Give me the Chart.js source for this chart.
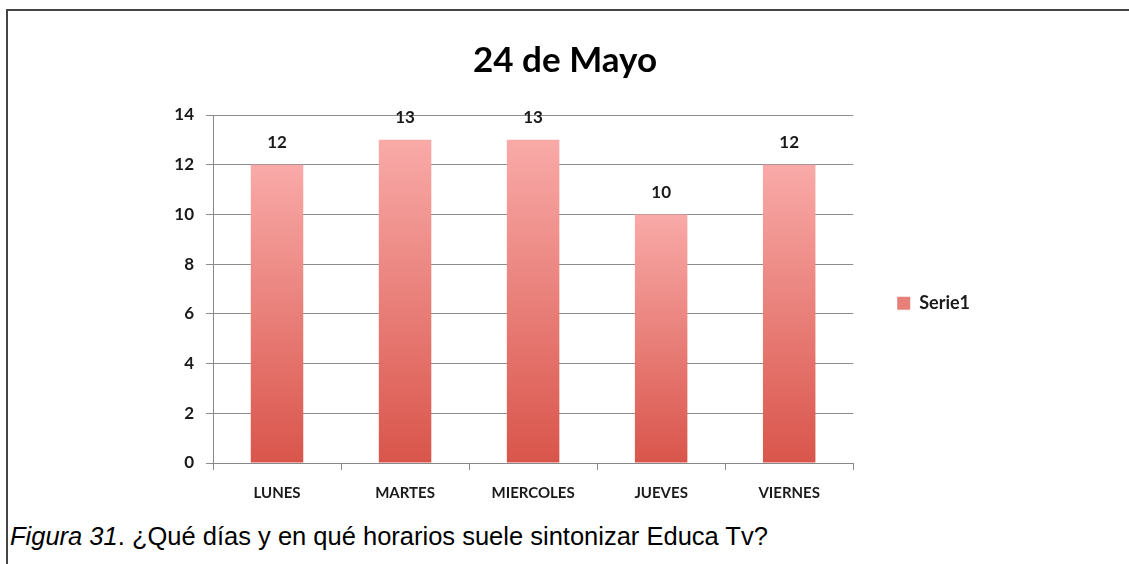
<!DOCTYPE html>
<html>
<head>
<meta charset="utf-8">
<script src="https://cdn.jsdelivr.net/npm/chart.js@4.4.1/dist/chart.umd.min.js"></script>
<style>
  body { margin: 0; background: #fff; }
  #frame { position: absolute; left: 6px; top: 9px; width: 1130px; height: 560px; border-top: 2px solid #444; border-left: 2px solid #444; }
  #wrap { position: absolute; left: 0; top: 0; width: 1129px; height: 516px; }
  #caption { position: absolute; left: 10px; top: 522px; font-family: "Liberation Sans", Arial, sans-serif; font-size: 25.5px; color: #000; white-space: nowrap; }
</style>
</head>
<body>
<div id="frame"></div>
<div id="wrap"><canvas id="chart"></canvas></div>
<div id="caption"><i>Figura 31</i>. ¿Qué días y en qué horarios suele sintonizar Educa Tv?</div>
<script>
const dias = ['LUNES', 'MARTES', 'MIERCOLES', 'JUEVES', 'VIERNES'];
const serie1 = [12, 13, 13, 10, 12];
const yTicks = [0, 2, 4, 6, 8, 10, 12, 14];

const fuente = 'Lato, "Open Sans", sans-serif';

// degradado por barra: rosa claro arriba, rojo abajo
function barGradient(context) {
    const chart = context.chart;
    const yScale = chart.scales.y;
    if (!chart.chartArea || !yScale) return '#e8706a';
    const top = yScale.getPixelForValue(context.raw);
    const bottom = yScale.getPixelForValue(0);
    const g = chart.ctx.createLinearGradient(0, top, 0, bottom);
    g.addColorStop(0, '#f9aaa8');
    g.addColorStop(1, '#d9554b');
    return g;
}

const etiquetas = {
    id: 'etiquetas',
    afterDatasetsDraw(chart) {
        const ctx = chart.ctx;
        const meta = chart.getDatasetMeta(0);
        ctx.save();
        ctx.font = 'bold 17px ' + fuente;
        ctx.fillStyle = '#1a1a1a';
        ctx.textAlign = 'center';
        ctx.textBaseline = 'middle';
        meta.data.forEach((bar, i) => {
            ctx.fillText(serie1[i], bar.x, bar.y - 22);
        });
        ctx.restore();
    }
};

const config = {
    type: 'bar',
    data: {
        labels: dias,
        datasets: [{
            label: 'Serie1',
            data: serie1,
            backgroundColor: barGradient,
            borderWidth: 0,
            barPercentage: 0.41,
            categoryPercentage: 1
        }]
    },
    options: {
        responsive: true,
        maintainAspectRatio: false,
        animation: false,
        layout: { padding: { left: 150, right: 149, top: 40, bottom: 0 } },
        plugins: {
            title: {
                display: true,
                text: '24 de Mayo',
                color: '#000',
                font: { family: fuente, size: 35, weight: 'bold' },
                padding: { top: 0, bottom: 33 }
            },
            legend: {
                position: 'right',
                fullSize: false,
                title: { display: true, text: '', font: { size: 12 }, padding: { top: 0, bottom: 14 } },
                labels: {
                    color: '#1a1a1a',
                    font: { family: fuente, size: 18, weight: 'bold' },
                    boxWidth: 13,
                    boxHeight: 13,
                    padding: 44,
                    generateLabels: chart => [{
                        text: 'Serie1',
                        fillStyle: '#e8807a',
                        strokeStyle: '#e8807a',
                        fontColor: '#1a1a1a',
                        lineWidth: 0,
                        datasetIndex: 0
                    }]
                }
            },
            tooltip: { enabled: false }
        },
        scales: {
            x: {
                grid: { display: true, drawOnChartArea: false, drawTicks: true, tickLength: 7, color: '#888', offset: true },
                border: { color: '#888', width: 1 },
                ticks: { color: '#1a1a1a', padding: 14, font: { family: fuente, size: 15, weight: 'bold' } }
            },
            y: {
                min: 0,
                max: 14,
                afterBuildTicks: scale => { scale.ticks = yTicks.map(v => ({ value: v })); },
                afterFit: scale => { scale.width = 63; },
                grid: { color: '#8c8c8c', tickLength: 7, lineWidth: 1 },
                border: { color: '#888', width: 1 },
                ticks: { color: '#1a1a1a', padding: 12, font: { family: fuente, size: 17, weight: 'bold' } }
            }
        }
    },
    plugins: [etiquetas]
};

new Chart(document.getElementById('chart').getContext('2d'), config);
</script>
</body>
</html>
